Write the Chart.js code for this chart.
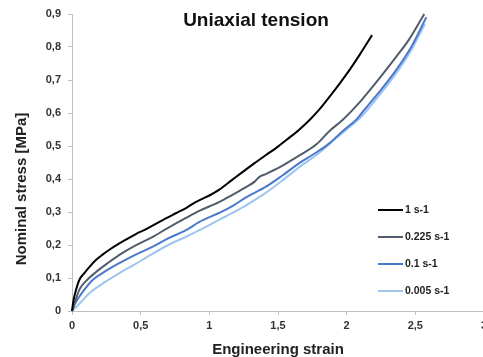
<!DOCTYPE html>
<html>
<head>
<meta charset="utf-8">
<script src="https://cdn.jsdelivr.net/npm/chart.js@4/dist/chart.umd.min.js"></script>
<style>
  html, body { margin: 0; padding: 0; background: #fff; overflow: hidden; }
  #wrap { position: relative; width: 495px; height: 357px; }
</style>
</head>
<body>
<div id="wrap"><canvas id="myChart"></canvas></div>
<script>
const chartTitle = "Uniaxial tension";
const xTitle = "Engineering strain";
const yTitle = "Nominal stress [MPa]";
const seriesNames = ["1 s-1", "0.225 s-1", "0.1 s-1", "0.005 s-1"];
const seriesColors = ["#000000", "#515d6d", "#4a78cc", "#9fc5ec"];

const xTickLabels = ["0", "0,5", "1", "1,5", "2", "2,5", "3"];
const yTickLabels = ["0", "0,1", "0,2", "0,3", "0,4", "0,5", "0,6", "0,7", "0,8", "0,9"];

// 1 s-1
const strain1 = [0, 0.01, 0.03, 0.053, 0.09, 0.126, 0.17, 0.22, 0.28, 0.345, 0.4, 0.468, 0.54, 0.61, 0.68, 0.76, 0.83, 0.9, 1.0, 1.07, 1.168, 1.27, 1.33, 1.41, 1.49, 1.56, 1.65, 1.73, 1.8, 1.873, 1.95, 2.02, 2.1, 2.185];
const stress1 = [0, 0.03, 0.065, 0.094, 0.115, 0.133, 0.153, 0.17, 0.188, 0.205, 0.218, 0.234, 0.248, 0.264, 0.28, 0.297, 0.312, 0.33, 0.35, 0.367, 0.398, 0.43, 0.448, 0.472, 0.495, 0.518, 0.548, 0.579, 0.61, 0.648, 0.69, 0.73, 0.78, 0.836];
// 0.225 s-1
const strain2 = [0, 0.02, 0.053, 0.1, 0.175, 0.26, 0.345, 0.46, 0.585, 0.7, 0.83, 0.93, 1.07, 1.168, 1.27, 1.33, 1.36, 1.41, 1.53, 1.65, 1.78, 1.873, 1.97, 2.11, 2.2, 2.36, 2.45, 2.565];
const stress2 = [0, 0.025, 0.064, 0.09, 0.118, 0.145, 0.17, 0.198, 0.224, 0.252, 0.282, 0.304, 0.33, 0.352, 0.376, 0.392, 0.405, 0.415, 0.44, 0.47, 0.505, 0.545, 0.579, 0.64, 0.685, 0.77, 0.82, 0.9];
// 0.1 s-1
const strain3 = [0, 0.02, 0.053, 0.1, 0.15, 0.24, 0.345, 0.46, 0.585, 0.7, 0.83, 0.928, 1.07, 1.168, 1.27, 1.41, 1.53, 1.655, 1.77, 1.873, 1.97, 2.07, 2.11, 2.23, 2.36, 2.47, 2.58];
const stress3 = [0, 0.02, 0.043, 0.07, 0.094, 0.12, 0.145, 0.17, 0.194, 0.22, 0.245, 0.27, 0.297, 0.318, 0.345, 0.376, 0.41, 0.448, 0.478, 0.508, 0.545, 0.58, 0.6, 0.66, 0.73, 0.8, 0.89];
// 0.005 s-1
const strain4 = [0, 0.05, 0.126, 0.23, 0.345, 0.46, 0.54, 0.7, 0.83, 0.928, 1.07, 1.168, 1.27, 1.41, 1.53, 1.655, 1.8, 1.9, 2.0, 2.11, 2.23, 2.36, 2.47, 2.57];
const stress4 = [0, 0.02, 0.054, 0.085, 0.115, 0.142, 0.162, 0.2, 0.225, 0.245, 0.276, 0.297, 0.321, 0.358, 0.395, 0.436, 0.479, 0.515, 0.55, 0.59, 0.65, 0.72, 0.79, 0.87];

const strains = [strain1, strain2, strain3, strain4];
const stresses = [stress1, stress2, stress3, stress4];

const toPoints = (xs, ys) => xs.map((x, i) => ({ x: x, y: ys[i] }));

const datasets = seriesNames.map((name, i) => ({
  label: name,
  data: toPoints(strains[i], stresses[i]),
  borderColor: seriesColors[i],
  backgroundColor: seriesColors[i],
  borderWidth: 2,
  pointRadius: 0,
  cubicInterpolationMode: "monotone",
  fill: false,
}));

const fontFamily = "'Liberation Sans', Arial, sans-serif";

// title, y title and legend sit where the chart.js boxes can't put them
const overlay = {
  id: "overlay",
  afterDraw(chart) {
    const ctx = chart.ctx;
    const area = chart.chartArea;
    ctx.save();
    ctx.fillStyle = "#111";
    ctx.font = "bold 19px " + fontFamily;
    ctx.textAlign = "center";
    ctx.textBaseline = "alphabetic";
    ctx.fillText(chartTitle, area.left + 184, 26);

    ctx.save();
    ctx.translate(22, 189);
    ctx.rotate(-Math.PI / 2);
    ctx.font = "bold 15px " + fontFamily;
    ctx.fillStyle = "#222";
    ctx.textBaseline = "middle";
    ctx.fillText(yTitle, 0, 0);
    ctx.restore();

    ctx.font = "bold 10.5px " + fontFamily;
    ctx.textAlign = "left";
    ctx.textBaseline = "middle";
    chart.data.datasets.forEach((ds, i) => {
      const y = area.top + 196 + i * 27;
      const x = area.left + 306;
      ctx.strokeStyle = ds.borderColor;
      ctx.lineWidth = 2;
      ctx.beginPath();
      ctx.moveTo(x, y);
      ctx.lineTo(x + 25, y);
      ctx.stroke();
      ctx.fillStyle = "#222";
      ctx.fillText(ds.label, x + 27, y + 0.5);
    });
    ctx.restore();
  },
};

const axisColor = "#bfbfbf";
const tickFont = { family: fontFamily, size: 11, weight: "bold" };
const titleFont = { family: fontFamily, size: 15, weight: "bold", lineHeight: 1 };

new Chart(document.getElementById("myChart"), {
  type: "line",
  data: { datasets: datasets },
  options: {
    responsive: true,
    maintainAspectRatio: false,
    animation: false,
    clip: false,
    layout: { padding: { top: 14, right: 11, bottom: 0, left: 0 } },
    plugins: {
      legend: { display: false },
      title: { display: false },
      tooltip: { enabled: false },
    },
    scales: {
      x: {
        type: "linear",
        min: 0,
        max: 3,
        afterFit: (scale) => { scale.height = 46; },
        afterBuildTicks: (scale) => {
          scale.ticks = xTickLabels.map((t, i) => ({ value: i * 0.5 }));
        },
        ticks: {
          color: "#333",
          font: tickFont,
          padding: 4,
          maxRotation: 0,
          callback: (v, i) => xTickLabels[i],
        },
        grid: { drawOnChartArea: false, drawTicks: true, tickLength: 4, color: axisColor },
        border: { color: axisColor },
        title: { display: true, text: xTitle, color: "#222", font: titleFont, padding: 0 },
      },
      y: {
        min: 0,
        max: 0.9,
        afterFit: (scale) => { scale.width = 72; },
        afterBuildTicks: (scale) => {
          scale.ticks = yTickLabels.map((t, i) => ({ value: i / 10 }));
        },
        ticks: {
          color: "#333",
          font: tickFont,
          padding: 7,
          callback: (v, i) => yTickLabels[i],
        },
        grid: { drawOnChartArea: false, drawTicks: true, tickLength: 4, color: axisColor },
        border: { color: axisColor },
      },
    },
  },
  plugins: [overlay],
});
</script>
</body>
</html>
